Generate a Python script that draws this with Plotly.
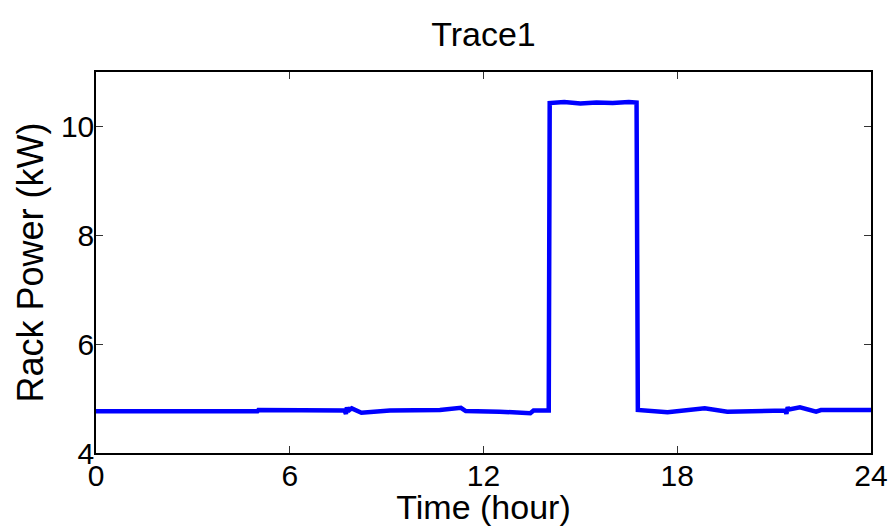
import plotly.graph_objects as go

hours = [0, 5.0, 5.03, 7.70, 7.74, 7.77, 7.80, 7.83, 7.87, 7.92, 8.22, 9.10, 10.65, 11.30, 11.45,
         12.50, 13.45, 13.55, 14.02, 14.05, 14.5, 15.0, 15.5, 16.0, 16.5, 16.74, 16.78,
         17.70, 18.85, 19.55, 21.35, 21.38, 21.42, 21.46, 21.80, 22.30, 22.45, 24.0]
power = [4.765, 4.765, 4.79, 4.78, 4.72, 4.84, 4.75, 4.83, 4.80, 4.82, 4.74, 4.78, 4.79, 4.83, 4.77,
         4.76, 4.73, 4.78, 4.78, 10.43, 10.45, 10.42, 10.44, 10.43, 10.45, 10.44, 4.79,
         4.75, 4.82, 4.76, 4.78, 4.72, 4.84, 4.80, 4.84, 4.76, 4.79, 4.79]

x_ticks = [0, 6, 12, 18, 24]
y_ticks = [4, 6, 8, 10]

FONT = "Liberation Sans, Arial, Helvetica, sans-serif"

fig = go.Figure()
fig.add_trace(go.Scatter(x=hours, y=power, mode="lines",
                         line=dict(color="#0000FF", width=4.5), showlegend=False))

axis_common = dict(
    showgrid=False, zeroline=False, showline=True, linecolor="black", linewidth=1.5,
    mirror="ticks", ticks="inside", ticklen=7, tickwidth=1, tickcolor="#333333",
    tickfont=dict(family=FONT, size=30, color="black"), automargin=False,
)

fig.update_layout(
    width=891, height=526,
    margin=dict(l=96, r=20, t=72, b=73),
    paper_bgcolor="white", plot_bgcolor="white",
    title=dict(text="Trace1", x=0.5, xanchor="center", y=0.935, yanchor="middle",
               xref="paper", font=dict(family=FONT, size=34, color="black")),
    xaxis=dict(range=[0, 24], tickvals=x_ticks, ticktext=[str(v) for v in x_ticks],
               title=dict(text="Time (hour)", font=dict(family=FONT, size=34, color="black"), standoff=0),
               ticklabelstandoff=-5,
               **axis_common),
    yaxis=dict(range=[4, 11], tickvals=y_ticks, ticktext=[str(v) for v in y_ticks],
               title=dict(text="Rack Power (kW)", font=dict(family=FONT, size=36, color="black"), standoff=6),
               ticklabelstandoff=-6,
               **axis_common),
)

fig.write_html("out.html")
